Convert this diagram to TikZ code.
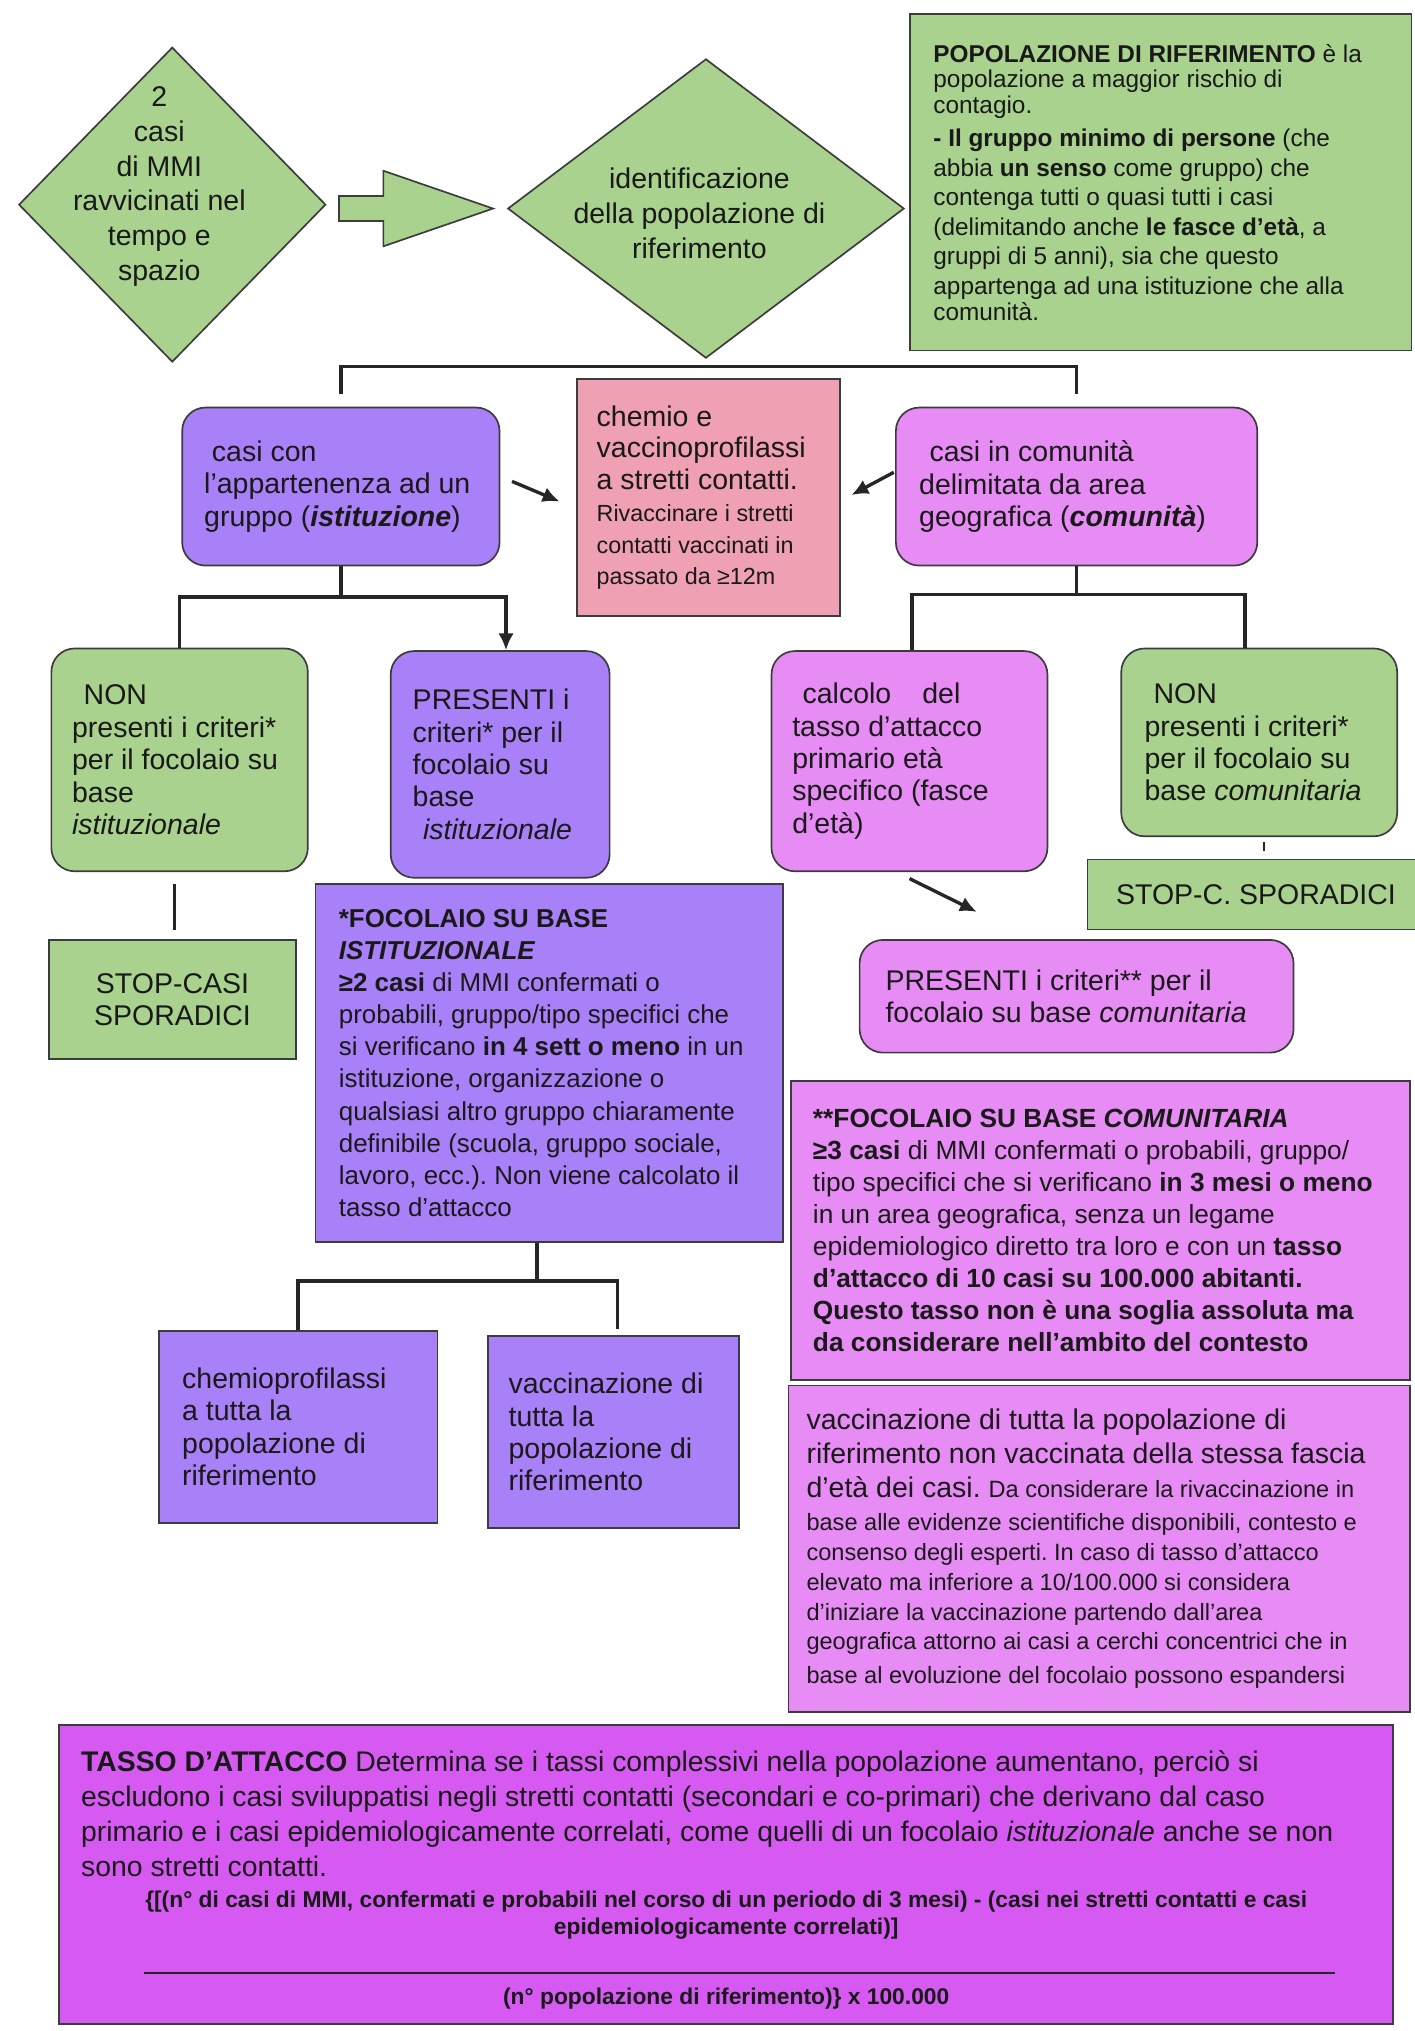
\documentclass[tikz,border=0pt]{standalone}
\usepackage{fontspec}
\setmainfont{Liberation Sans}
\usepackage{tikz}
\usetikzlibrary{positioning, shapes.geometric, shapes.arrows, arrows.meta}
\usepackage{xcolor}
\definecolor{mmigreen}{HTML}{AAD28F}
\definecolor{istpurple}{HTML}{A880F7}
\definecolor{compink}{HTML}{E88CF5}
\definecolor{chemorose}{HTML}{EFA0B3}
\definecolor{tassomag}{HTML}{D65AF2}
\definecolor{edgegray}{HTML}{3C3C3C}
\frenchspacing
\tikzset{
  panel/.style={draw=edgegray, line width=1.3pt, anchor=north west, align=flush left,
    inner sep=0pt, text=black!90, font=\fontsize{22}{25}\selectfont},
  softpanel/.style={panel, rounded corners=18pt},
  conn/.style={line width=2.6pt, draw=black!85},
  conn arrow/.style={conn, -{Latex[length=13pt,width=12pt]}},
  crit/.style={diamond, draw=edgegray, line width=1.3pt, fill=mmigreen, inner sep=0pt},
  crittext/.style={font=\fontsize{22}{27}\selectfont, align=center, text=black!90}
}

\begin{document}
\begin{tikzpicture}[x=1pt, y=-1pt]
\path[use as bounding box, fill=white] (0,0) rectangle (1092,1568);

% Top row: cluster of cases -> reference population
\node[crit, minimum width=237pt, minimum height=243pt,
  label={[crittext, xshift=-10pt, yshift=14pt]center:{2\\casi\\di MMI\\ravvicinati nel\\tempo e\\spazio}}]
  (cluster) at (133,158) {};
\node[single arrow, draw=edgegray, fill=mmigreen, line width=1.3pt, minimum height=119pt,
  inner xsep=0pt, inner ysep=9pt, single arrow head extend=19.5pt,
  single arrow tip angle=38, anchor=tail] (flow) at (261,161) {};
\node[crit, minimum width=306pt, minimum height=231pt,
  label={[crittext, xshift=-5pt, yshift=-4pt]center:{identificazione\\della popolazione di\\riferimento}}]
  (refid) at (545,161) {};
\node[panel, fill=mmigreen, minimum width=387pt, minimum height=260pt, text width=351pt,
  font=\fontsize{18.8}{19.8}\selectfont] (refpop) at (702,10) {%
  \textbf{POPOLAZIONE DI RIFERIMENTO} è la\\
  popolazione a maggior rischio di\\
  contagio.\par\vspace{3pt}\fontsize{18.8}{22.8}\selectfont
  \textbf{- Il gruppo minimo di persone} (che\\
  abbia \textbf{un senso} come gruppo) che\\
  contenga tutti o quasi tutti i casi\\
  (delimitando anche \textbf{le fasce d'età}, a\\
  gruppi di 5 anni), sia che questo\\
  appartenga ad una istituzione che alla\\
  comunità.};

% Second row: institution / prophylaxis / community
\node[softpanel, fill=istpurple, minimum width=245pt, minimum height=122pt, text width=211pt]
  (inst) at (140,314) {\hspace*{6pt}casi con\\l'appartenenza ad un\\gruppo (\textbf{\textit{istituzione}})};
\node[panel, fill=chemorose, minimum width=203pt, minimum height=183pt, text width=173pt,
  font=\fontsize{22}{24.5}\selectfont] (prophyl) at (445,292) {%
  chemio e\\vaccinoprofilassi\\a stretti contatti.\\
  {\fontsize{18}{24.5}\selectfont Rivaccinare i stretti\\contatti vaccinati in\\passato da ≥12m}};
\node[softpanel, fill=compink, minimum width=279pt, minimum height=122pt, text width=243pt]
  (comm) at (691,314) {\hspace*{8pt}casi in comunità\\delimitata da area\\geografica (\textbf{\textit{comunità}})};

% Third row: criteria
\node[softpanel, fill=mmigreen, minimum width=198pt, minimum height=172pt, text width=166pt]
  (instno) at (39,500) {\hspace*{9pt}NON\\presenti i criteri*\\per il focolaio su\\base\\\textit{istituzionale}};
\node[softpanel, fill=istpurple, minimum width=169pt, minimum height=175pt, text width=135pt]
  (instyes) at (301,502) {PRESENTI i\\criteri* per il\\focolaio su\\base\\\hspace*{8pt}\textit{istituzionale}};
\node[softpanel, fill=compink, minimum width=213pt, minimum height=170pt, text width=181pt]
  (attack) at (595,502) {\hspace*{8pt}calcolo\hspace{24pt}del\\tasso d'attacco\\primario età\\specifico (fasce\\d'età)};
\node[softpanel, fill=mmigreen, minimum width=213pt, minimum height=145pt, text width=177pt]
  (commno) at (865,500) {\hspace*{7pt}NON\\presenti i criteri*\\per il focolaio su\\base \textit{comunitaria}};

% Sporadic cases and community criteria met
\node[panel, fill=mmigreen, minimum width=191pt, minimum height=92pt, align=center]
  (instsporadic) at (37,725) {STOP-CASI\\SPORADICI};
\node[panel, fill=mmigreen, minimum width=260pt, minimum height=54pt, align=center]
  (commsporadic) at (839,663) {STOP-C. SPORADICI};
\node[softpanel, fill=compink, minimum width=335pt, minimum height=87pt, text width=295pt]
  (commyes) at (663,725) {PRESENTI i criteri** per il\\focolaio su base \textit{comunitaria}};

% Definitions
\node[panel, fill=istpurple, minimum width=361pt, minimum height=276pt, text width=325pt,
  font=\fontsize{20}{24.8}\selectfont] (instdef) at (243,682) {%
  \textbf{*FOCOLAIO SU BASE}\\
  \textbf{\textit{ISTITUZIONALE}}\\
  \textbf{≥2 casi} di MMI confermati o\\
  probabili, gruppo/tipo specifici che\\
  si verificano \textbf{in 4 sett o meno} in un\\
  istituzione, organizzazione o\\
  qualsiasi altro gruppo chiaramente\\
  definibile (scuola, gruppo sociale,\\
  lavoro, ecc.). Non viene calcolato il\\
  tasso d'attacco};
\node[panel, fill=compink, minimum width=478pt, minimum height=231pt, text width=444pt,
  font=\fontsize{20.3}{24.7}\selectfont] (commdef) at (610,834) {%
  \textbf{**FOCOLAIO SU BASE \textit{COMUNITARIA}}\\
  \textbf{≥3 casi} di MMI confermati o probabili, gruppo/\\
  tipo specifici che si verificano \textbf{in 3 mesi o meno}\\
  in un area geografica, senza un legame\\
  epidemiologico diretto tra loro e con un \textbf{tasso}\\
  \textbf{d'attacco di 10 casi su 100.000 abitanti.}\\
  \textbf{Questo tasso non è una soglia assoluta ma}\\
  \textbf{da considerare nell'ambito del contesto}};

% Measures
\node[panel, fill=istpurple, minimum width=215pt, minimum height=148pt, text width=179pt]
  (instchemo) at (122,1027) {chemioprofilassi\\a tutta la\\popolazione di\\riferimento};
\node[panel, fill=istpurple, minimum width=194pt, minimum height=148pt, text width=162pt]
  (instvacc) at (376,1031) {vaccinazione di\\tutta la\\popolazione di\\riferimento};
\node[panel, fill=compink, minimum width=480pt, minimum height=252pt, text width=452pt,
  font=\fontsize{22}{26}\selectfont] (commvacc) at (608,1069) {%
  vaccinazione di tutta la popolazione di\\
  riferimento non vaccinata della stessa fascia\\
  d'età dei casi. {\fontsize{18.2}{26}\selectfont Da considerare la rivaccinazione in}\par
  \vspace{3pt}\fontsize{18.2}{23}\selectfont
  base alle evidenze scientifiche disponibili, contesto e\\
  consenso degli esperti. In caso di tasso d'attacco\\
  elevato ma inferiore a 10/100.000 si considera\\
  d'iniziare la vaccinazione partendo dall'area\\
  geografica attorno ai casi a cerchi concentrici che in\\
  base al evoluzione del focolaio possono espandersi};

% Attack rate
\node[panel, fill=tassomag, minimum width=1030pt, minimum height=231pt, text width=996pt,
  font=\fontsize{21.9}{27}\selectfont] (rate) at (45,1331) {%
  \rule{0pt}{25pt}\textbf{TASSO D'ATTACCO} Determina se i tassi complessivi nella popolazione aumentano, perciò si\\
  escludono i casi sviluppatisi negli stretti contatti (secondari e co-primari) che derivano dal caso\\
  primario e i casi epidemiologicamente correlati, come quelli di un focolaio \textit{istituzionale} anche se non\\
  sono stretti contatti.\par\vspace{3pt}
  {\centering\bfseries\fontsize{17.6}{21}\selectfont
  \{[(n° di casi di MMI, confermati e probabili nel corso di un periodo di 3 mesi) - (casi nei stretti contatti e casi\\
  epidemiologicamente correlati)]\\[33pt]
  (n° popolazione di riferimento)\} x 100.000\par}};
\draw[line width=1.2pt, black!85] ([shift={(66pt,40pt)}]rate.south west) -- ++(920,0);

% Connectors
\draw[conn] ([yshift=10pt]inst.north) -- ++(0,-21) -| ([yshift=10pt]comm.north);
\draw[conn arrow] ([xshift=9pt,yshift=4pt]inst.east) -- ([xshift=-13pt,yshift=-3pt]prophyl.west);
\draw[conn arrow] ([xshift=-1pt,yshift=11pt]comm.west) -- ([xshift=8pt,yshift=2pt]prophyl.east);

\draw[conn] (inst.south) -- ++(0,25);
\draw[conn arrow] (instno.north) -- ++(0,-39) -| ([xshift=4.5pt]instyes.north);
\draw[conn] ([xshift=-4pt,yshift=-9pt]instno.south) -- ([xshift=1.5pt,yshift=7pt]instsporadic.north);

\draw[conn] (comm.south) -- ++(0,23);
\draw[conn] ([xshift=2pt]attack.north) -- ++(0,-43) -| ([xshift=-11pt]commno.north);
\draw[conn, line width=1.5pt] ([xshift=3.5pt,yshift=-4pt]commno.south) -- ++(0,7);
\draw[conn arrow] ([yshift=-5pt]attack.south) -- ([xshift=-77pt,yshift=21pt]commyes.north);

\draw[conn] ([xshift=-9.5pt]instdef.south) -- ++(0,31);
\draw[conn] (instchemo.north) -- ++(0,-38) -| ([xshift=3pt,yshift=5pt]instvacc.north);

\end{tikzpicture}
\end{document}
